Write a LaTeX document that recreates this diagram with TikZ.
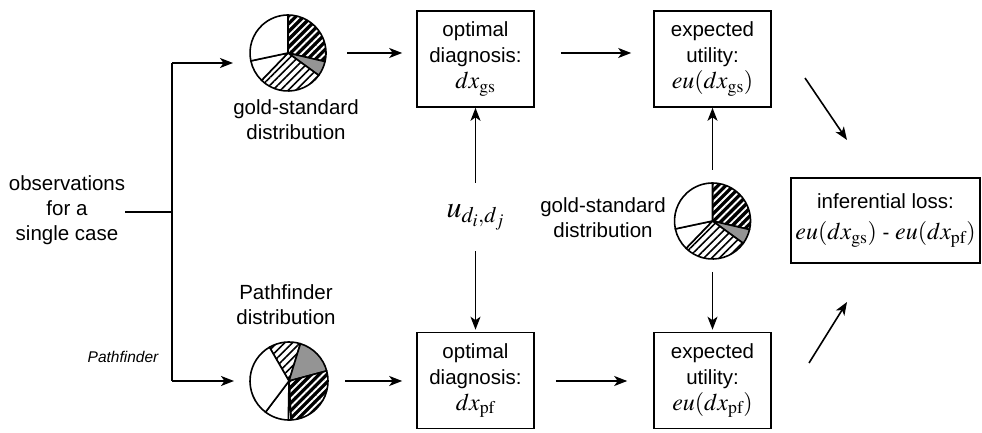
\documentclass[tikz,border=0pt]{standalone}
\usepackage{mathptmx}
\usepackage[no-math]{fontspec}
\setmainfont{Liberation Sans}
\usetikzlibrary{arrows.meta,patterns.meta}
\newcommand{\mm}[1]{{\fontsize{24}{26}\selectfont$#1$}}
\newcommand{\mywedge}[5]{%
  \path[#5] (#1) -- ++(#3:#2) arc[start angle=#3, end angle=#4, radius=#2] -- cycle;
  \draw[pieline] (#1) -- ++(#3:#2) arc[start angle=#3, end angle=#4, radius=#2] -- cycle;}
\begin{document}
\begin{tikzpicture}[x=1pt,y=1pt,
  txt/.style={font=\fontsize{20.5}{25}\selectfont, align=center, inner sep=0pt},
  box/.style={draw, line width=1.6pt, minimum width=117pt, minimum height=96pt, align=center, font=\fontsize{20.5}{26}\selectfont, inner sep=0pt},
  arr/.style={line width=1.6pt, -{Stealth[length=13pt,width=10pt,inset=3.5pt]}},
  ln/.style={line width=1.6pt},
  pienode/.style={circle, minimum size=76pt, inner sep=0pt, outer sep=0pt},
  pieline/.style={line width=1.6pt, line join=round},
  hb/.style={preaction={fill=black}, pattern={Lines[angle=45,distance=5.5pt,line width=1.9pt]}, pattern color=white},
  hw/.style={preaction={fill=white}, pattern={Lines[angle=45,distance=5.5pt,line width=1.6pt]}, pattern color=black},
  gr/.style={fill=black!42},
  wh/.style={fill=white}]
\useasboundingbox (0,0) rectangle (982,433);

% boxes
\node[box] (optGS) at (475.5,374) {optimal\\diagnosis:\\\mm{dx_{\mathrm{gs}}}};
\node[box] (euGS) at (712.5,374) {expected\\utility:\\\mm{eu(dx_{\mathrm{gs}})}};
\node[box] (optPF) at (475.5,52.5) {optimal\\diagnosis:\\\mm{dx_{\mathrm{pf}}}};
\node[box] (euPF) at (712.5,52.5) {expected\\utility:\\\mm{eu(dx_{\mathrm{pf}})}};
\node[box, minimum width=189pt, minimum height=85pt, font=\fontsize{20.5}{31}\selectfont] (loss) at (885.5,212.5)
  {inferential loss:\\\mm{eu(dx_{\mathrm{gs}})} - \mm{eu(dx_{\mathrm{pf}})}};

% texts
\node[txt] (obs) at (67,223) {observations\\for a\\single case};
\node[txt] (gsd1) at (296,313.5) {gold-standard\\distribution};
\node[txt] (pfd) at (286,128) {Pathfinder\\distribution};
\node[txt] (gsd2) at (603,215) {gold-standard\\distribution};
\node[txt, font=\fontsize{15.5}{18}\selectfont\itshape] (pfi) at (123,76) {Pathfinder};
\node[txt, minimum height=68pt] (u) at (475.5,216) {\fontsize{30}{30}\selectfont$u_{d_i,d_j}$};

% pies
\node[pienode] (pieGS) at (288,380) {};
\node[pienode] (pieM) at (712.5,212) {};
\node[pienode, minimum size=78pt] (piePF) at (289,52) {};

\foreach \p in {pieGS,pieM}{
  \mywedge{\p.center}{38}{90}{-13}{hb}
  \mywedge{\p.center}{38}{-13}{-36}{gr}
  \mywedge{\p.center}{38}{-36}{-134}{hw}
  \mywedge{\p.center}{38}{-134}{-168}{wh}
  \mywedge{\p.center}{38}{-168}{-270}{wh}
}
\mywedge{piePF.center}{39}{120}{73}{hw}
\mywedge{piePF.center}{39}{73}{15}{gr}
\mywedge{piePF.center}{39}{15}{-87}{hb}
\mywedge{piePF.center}{39}{-87}{-91}{wh}
\mywedge{piePF.center}{39}{-91}{-127}{wh}
\mywedge{piePF.center}{39}{-127}{-240}{wh}

% left connectors
\coordinate (jT) at (172,370);
\coordinate (jM) at (172,221);
\coordinate (jB) at (172,52);
\draw[ln] (obs.east |- jM) -- (jM);
\draw[ln] (jT) -- (jB);
\draw[arr, shorten >=17pt] (jT) -- (jT -| pieGS.west);
\draw[arr, shorten >=16pt] (jB) -- (jB -| piePF.west);

% horizontal arrows
\draw[arr, shorten <=21pt, shorten >=14pt] (pieGS.east) -- (pieGS.east -| optGS.west);
\draw[arr, shorten <=26pt, shorten >=22pt] (optGS.east |- pieGS.east) -- (pieGS.east -| euGS.west);
\draw[arr, shorten <=17pt, shorten >=14pt] (piePF.east) -- (piePF.east -| optPF.west);
\draw[arr, shorten <=21pt, shorten >=26pt] (optPF.east |- piePF.east) -- (piePF.east -| euPF.west);

% vertical arrows
\draw[arr] (u) -- (optGS);
\draw[arr, shorten >=2pt] (u) -- (optPF);
\draw[arr, shorten <=13pt] (pieM) -- (euGS);
\draw[arr, shorten <=13pt, shorten >=2pt] (pieM) -- (euPF);

% diagonal arrows
\coordinate (dT1) at (805,355);
\coordinate (dT2) at (847,293);
\coordinate (dB1) at (809,70);
\coordinate (dB2) at (847,131);
\draw[arr] (dT1) -- (dT2);
\draw[arr] (dB1) -- (dB2);
\end{tikzpicture}
\end{document}
